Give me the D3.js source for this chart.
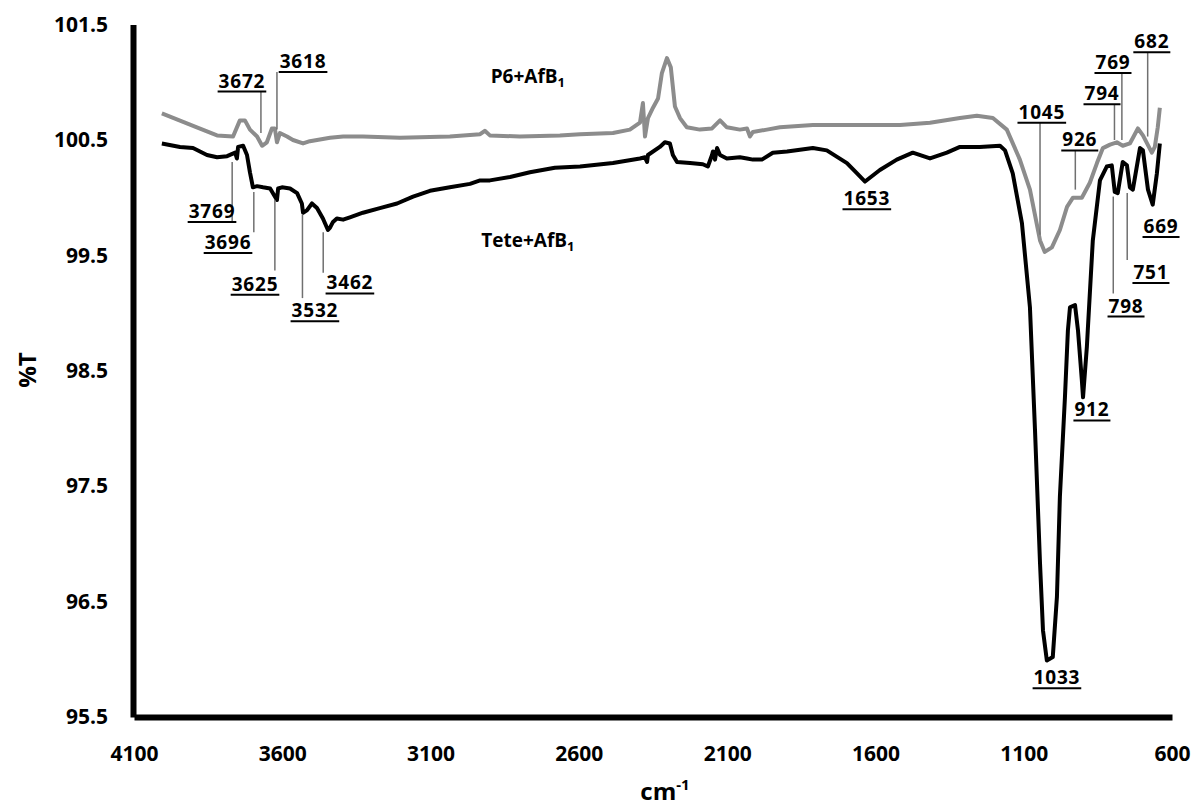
<!DOCTYPE html>
<html>
<head>
<meta charset="utf-8">
<script src="https://cdn.jsdelivr.net/npm/d3@7"></script>
<style>
  body { margin: 0; background: #fff; }
  text { font-family: "Open Sans", "Noto Sans", sans-serif; }
</style>
</head>
<body>
<div id="chart"></div>
<script>

// P6+AfB1 spectrum (grey): wavenumber (cm-1) and %T
var p6Wn = [4006,3888,3820,3766,3743,3726,3709,3685,3668,3652,3635,3625,3618,3608,3584,3564,3530,3507,3439,3395,
  3328,3203,3035,2933,2917,2900,2799,2664,2596,2485,2428,2394,2384,2377,2367,2350,2333,2320,2303,2290,
  2276,2259,2236,2192,2151,2124,2101,2057,2033,2023,2013,1966,1922,1811,1696,1517,1416,1315,1258,1204,
  1157,1113,1079,1045,1029,1005,978,954,934,904,877,853,833,809,786,766,742,715,698,668,658,648,641];
var p6T = [100.73,100.61,100.54,100.53,100.67,100.67,100.59,100.53,100.45,100.48,100.60,100.60,100.48,100.56,100.53,100.50,100.47,100.49,100.52,100.53,
  100.53,100.52,100.53,100.55,100.58,100.54,100.53,100.54,100.55,100.56,100.59,100.65,100.82,100.53,100.69,100.78,100.86,101.08,101.21,101.13,
  100.79,100.69,100.61,100.59,100.60,100.67,100.61,100.59,100.60,100.53,100.57,100.59,100.61,100.63,100.63,100.63,100.65,100.69,100.71,100.69,
  100.59,100.33,100.07,99.63,99.53,99.57,99.72,99.92,100.00,100.00,100.13,100.30,100.43,100.46,100.48,100.45,100.47,100.60,100.54,100.39,100.44,100.61,100.78];

// Tete+AfB1 spectrum (black)
var teteWn = [4006,3945,3901,3854,3820,3786,3759,3753,3749,3732,3719,3709,3699,3685,3665,3641,3625,3618,3614,3601,
  3574,3550,3534,3530,3517,3500,3483,3463,3446,3439,3429,3416,3395,3372,3328,3271,3213,3159,3102,3035,
  2967,2933,2900,2832,2765,2681,2596,2485,2394,2377,2370,2367,2327,2310,2293,2283,2269,2225,2182,2165,
  2151,2148,2141,2134,2124,2101,2057,2033,2013,1983,1946,1898,1811,1764,1696,1662,1635,1585,1528,1474,
  1416,1359,1315,1248,1180,1163,1137,1106,1079,1062,1045,1035,1022,1002,988,978,961,951,944,927,
  917,904,900,887,884,867,843,820,803,793,783,766,752,742,732,708,698,681,665,651,641];
var teteT = [100.47,100.44,100.43,100.37,100.35,100.36,100.39,100.34,100.44,100.45,100.37,100.22,100.09,100.10,100.09,100.08,100.01,99.98,100.08,100.09,
  100.08,100.04,99.95,99.87,99.89,99.95,99.91,99.82,99.72,99.74,99.79,99.82,99.81,99.83,99.87,99.91,99.95,100.01,100.06,100.09,
  100.12,100.15,100.15,100.18,100.22,100.26,100.27,100.30,100.34,100.35,100.31,100.37,100.44,100.48,100.47,100.37,100.31,100.30,100.29,100.27,
  100.37,100.40,100.33,100.43,100.37,100.34,100.35,100.34,100.33,100.33,100.39,100.40,100.43,100.41,100.30,100.21,100.14,100.24,100.33,100.39,
  100.34,100.39,100.44,100.44,100.45,100.41,100.21,99.78,99.05,97.99,96.83,96.25,95.99,96.02,96.54,97.41,98.27,98.85,99.05,99.07,
  98.85,98.42,98.27,98.71,98.85,99.63,100.15,100.27,100.28,100.05,100.04,100.31,100.28,100.09,100.07,100.43,100.41,100.07,99.94,100.21,100.47];

var xTicks = [4100, 3600, 3100, 2600, 2100, 1600, 1100, 600];
var yTicks = [95.5, 96.5, 97.5, 98.5, 99.5, 100.5, 101.5];

// peak labels: text, label centre (wn, %T at underline), leader [wn, %T top, %T bottom]
var peakText  = ["3618","3672","3769","3696","3625","3532","3462","1653","1045","926","794","769","682","669","751","798","912","1033"];
var peakLabX  = [3530, 3736, 3837, 3783, 3692, 3490, 3372, 1629, 1039, 911, 836, 799, 668, 637, 671, 755, 870, 988];
var peakLabY  = [101.09,100.92,99.79,99.52,99.16,98.93,99.17,99.90,100.65,100.41,100.81,101.08,101.26,99.66,99.26,98.97,98.07,95.75];
var leadWn    = [3618, 3672, 3769, 3696, 3625, 3532, 3462, null, 1045, 926, 794, 769, 682, null, 751, 798, null, null];
var leadTop   = [101.09,100.92,100.31,100.05,99.98,99.85,99.70, null,100.65,100.41,100.81,101.08,101.26, null,100.04,100.01, null, null];
var leadBot   = [100.59,100.56,99.79,99.70,99.37,99.13,99.35, null,99.68,100.07,100.50,100.50,100.53, null,99.46,99.17, null, null];

var W = 1198, H = 810;
var svg = d3.select("#chart").append("svg")
  .attr("width", W).attr("height", H);

var x = d3.scaleLinear().domain([4100, 600]).range([134, 1172]);
var y = d3.scaleLinear().domain([95.5, 101.5]).range([717, 24.6]);

// axes
var xAxis = svg.append("g")
  .attr("transform", "translate(0,717)")
  .call(d3.axisBottom(x).tickValues(xTicks).tickSize(0).tickPadding(29).tickFormat(d3.format("d")));
var yAxis = svg.append("g")
  .attr("transform", "translate(133,0)")
  .call(d3.axisLeft(y).tickValues(yTicks).tickSize(0).tickPadding(25).tickFormat(d3.format(".1f")));

[xAxis, yAxis].forEach(function(g){
  g.select(".domain").attr("stroke", "#000").attr("stroke-width", 6);
  g.selectAll("text")
    .style("font-family", "'Open Sans', sans-serif")
    .style("font-size", "21px")
    .style("font-weight", "bold")
    .attr("fill", "#000");
});

// spectra
var line = d3.line()
  .x(function(d){ return x(d[0]); })
  .y(function(d){ return y(d[1]); });

svg.append("path")
  .datum(d3.zip(p6Wn, p6T))
  .attr("fill", "none")
  .attr("stroke", "#8c8c8c")
  .attr("stroke-width", 4)
  .attr("stroke-linejoin", "round")
  .attr("d", line);

svg.append("path")
  .datum(d3.zip(teteWn, teteT))
  .attr("fill", "none")
  .attr("stroke", "#000")
  .attr("stroke-width", 4)
  .attr("stroke-linejoin", "round")
  .attr("d", line);

// leader lines
peakText.forEach(function(t, i){
  if (leadWn[i] === null) return;
  svg.append("line")
    .attr("x1", x(leadWn[i])).attr("x2", x(leadWn[i]))
    .attr("y1", y(leadTop[i])).attr("y2", y(leadBot[i]))
    .attr("stroke", "#707070")
    .attr("stroke-width", 1.5);
});

// underlined peak labels
peakText.forEach(function(t, i){
  var tx = svg.append("text")
    .attr("x", x(peakLabX[i]))
    .attr("y", y(peakLabY[i]) - 4)
    .attr("text-anchor", "middle")
    .style("font-size", "19px")
    .style("font-weight", "bold")
    .style("letter-spacing", "0.8px")
    .text(t);
  var w = tx.node().getComputedTextLength();
  svg.append("line")
    .attr("x1", x(peakLabX[i]) - w / 2 - 1).attr("x2", x(peakLabX[i]) + w / 2 + 1)
    .attr("y1", y(peakLabY[i])).attr("y2", y(peakLabY[i]))
    .attr("stroke", "#000").attr("stroke-width", 2);
});

// series names
var seriesName = [["P6+AfB", 2772, 101.05], ["Tete+AfB", 2772, 99.63]];
seriesName.forEach(function(s){
  var t = svg.append("text")
    .attr("x", x(s[1])).attr("y", y(s[2]))
    .attr("dy", "0.35em")
    .attr("text-anchor", "middle")
    .style("font-size", "19px")
    .style("font-weight", "bold");
  t.append("tspan").text(s[0]);
  t.append("tspan").attr("dy", "4").style("font-size", "13px").text("1");
});

// axis titles
svg.append("text")
  .attr("transform", "translate(36,370) rotate(-90)")
  .attr("text-anchor", "middle")
  .style("font-size", "24px")
  .style("font-weight", "bold")
  .text("%T");

var xt = svg.append("text")
  .attr("x", 665).attr("y", 800)
  .attr("text-anchor", "middle")
  .style("font-size", "24px")
  .style("font-weight", "bold");
xt.append("tspan").text("cm");
xt.append("tspan").attr("dy", "-10").style("font-size", "15px").text("-1");

</script>
</body>
</html>
